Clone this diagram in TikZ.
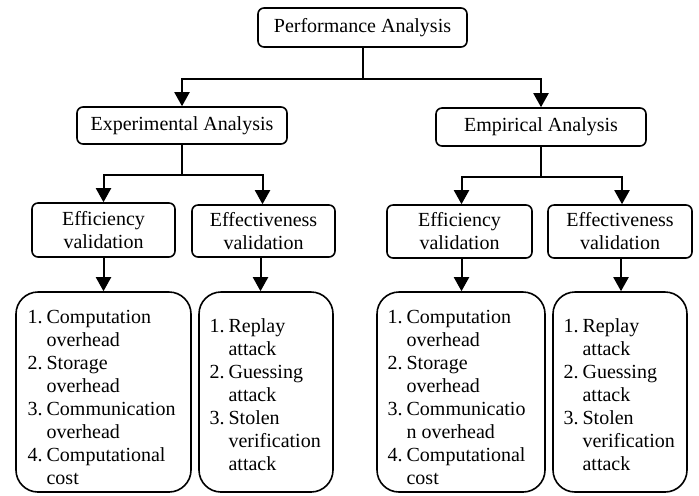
\documentclass[tikz,border=0pt]{standalone}
\usepackage{fontspec}
\setmainfont{Liberation Serif}
\usetikzlibrary{arrows.meta}
\tikzset{
    box/.style={draw, line width=0.8pt, rounded corners=3pt, align=center, inner sep=1pt},
    listbox/.style={draw, line width=0.8pt, rounded corners=11pt, inner sep=0pt},
    arr/.style={line width=1pt, -{Triangle[width=7.5pt,length=7pt]}},
    line/.style={line width=1pt}
}
\newcommand{\itemlist}[1]{\begin{tabular}{@{}r@{\hspace{2pt}}l@{}}#1\end{tabular}}
\begin{document}
\begin{tikzpicture}[x=0.5pt, y=-0.5pt, font=\fontsize{10}{11.5}\selectfont]
                \useasboundingbox (0,0) rectangle (699,495);
                % top level
                \node[box, minimum width=104.5pt, minimum height=19.5pt] (perf) at (362.5,27.5) {Performance Analysis};
                \node[box, minimum width=105pt, minimum height=18.5pt] (exper) at (182,125.5) {Experimental Analysis};
                \node[box, minimum width=105pt, minimum height=19pt] (empir) at (541,127) {Empirical Analysis};
                % validation boxes
                \node[box, minimum width=71.5pt, minimum height=27pt] (effl) at (103.5,230) {Efficiency\\validation};
                \node[box, minimum width=71.5pt, minimum height=26pt] (effvl) at (263.5,231) {Effectiveness\\validation};
                \node[box, minimum width=72.5pt, minimum height=26.5pt] (effr) at (459.5,231.5) {Efficiency\\validation};
                \node[box, minimum width=72pt, minimum height=26.5pt] (effvr) at (620,231.5) {Effectiveness\\validation};
                % lists
                \node[listbox, minimum width=87.5pt, minimum height=100pt] (listl) at (103.5,392) {};
                \node[anchor=west, inner sep=0pt] at ([xshift=6pt,yshift=-3.5pt]listl.west) {\itemlist{
                    1. & Computation\\ & overhead\\
                    2. & Storage\\ & overhead\\
                    3. & Communication\\ & overhead\\
                    4. & Computational\\ & cost}};
                \node[listbox, minimum width=67pt, minimum height=100pt] (listvl) at (266,392) {};
                \node[anchor=west, inner sep=0pt] at ([xshift=5.5pt,yshift=-2.5pt]listvl.west) {\itemlist{
                    1. & Replay\\ & attack\\
                    2. & Guessing\\ & attack\\
                    3. & Stolen\\ & verification\\ & attack}};
                \node[listbox, minimum width=84pt, minimum height=100pt] (listr) at (461,392) {};
                \node[anchor=west, inner sep=0pt] at ([xshift=5.5pt,yshift=-3.5pt]listr.west) {\itemlist{
                    1. & Computation\\ & overhead\\
                    2. & Storage\\ & overhead\\
                    3. & Communicatio\\ & n overhead\\
                    4. & Computational\\ & cost}};
                \node[listbox, minimum width=67pt, minimum height=100pt] (listvr) at (620,392) {};
                \node[anchor=west, inner sep=0pt] at ([xshift=5.5pt,yshift=-2.5pt]listvr.west) {\itemlist{
                    1. & Replay\\ & attack\\
                    2. & Guessing\\ & attack\\
                    3. & Stolen\\ & verification\\ & attack}};
                % connectors
                \draw[line] (perf.south) -- ++(0,31) coordinate (jtop);
                \draw[arr] (jtop) -| (exper.north);
                \draw[arr] (jtop) -| (empir.north);
                \draw[line] (exper.south) -- ++(0,30) coordinate (jl);
                \draw[arr] (jl) -| (effl.north);
                \draw[arr] (jl) -| ([xshift=-0.5pt]effvl.north);
                \draw[line] (empir.south) -- ++(0,30) coordinate (jr);
                \draw[arr] (jr) -| ([xshift=1pt]effr.north);
                \draw[arr] (jr) -| ([xshift=1pt]effvr.north);
                \draw[arr] (effl.south) -- (effl.south |- listl.north);
                \draw[arr] ([xshift=-1.5pt]effvl.south) -- ([xshift=-1.5pt]effvl.south |- listvl.north);
                \draw[arr] ([xshift=1pt]effr.south) -- ([xshift=1pt]effr.south |- listr.north);
                \draw[arr] ([xshift=0.5pt]effvr.south) -- ([xshift=0.5pt]effvr.south |- listvr.north);
\end{tikzpicture}
\end{document}
